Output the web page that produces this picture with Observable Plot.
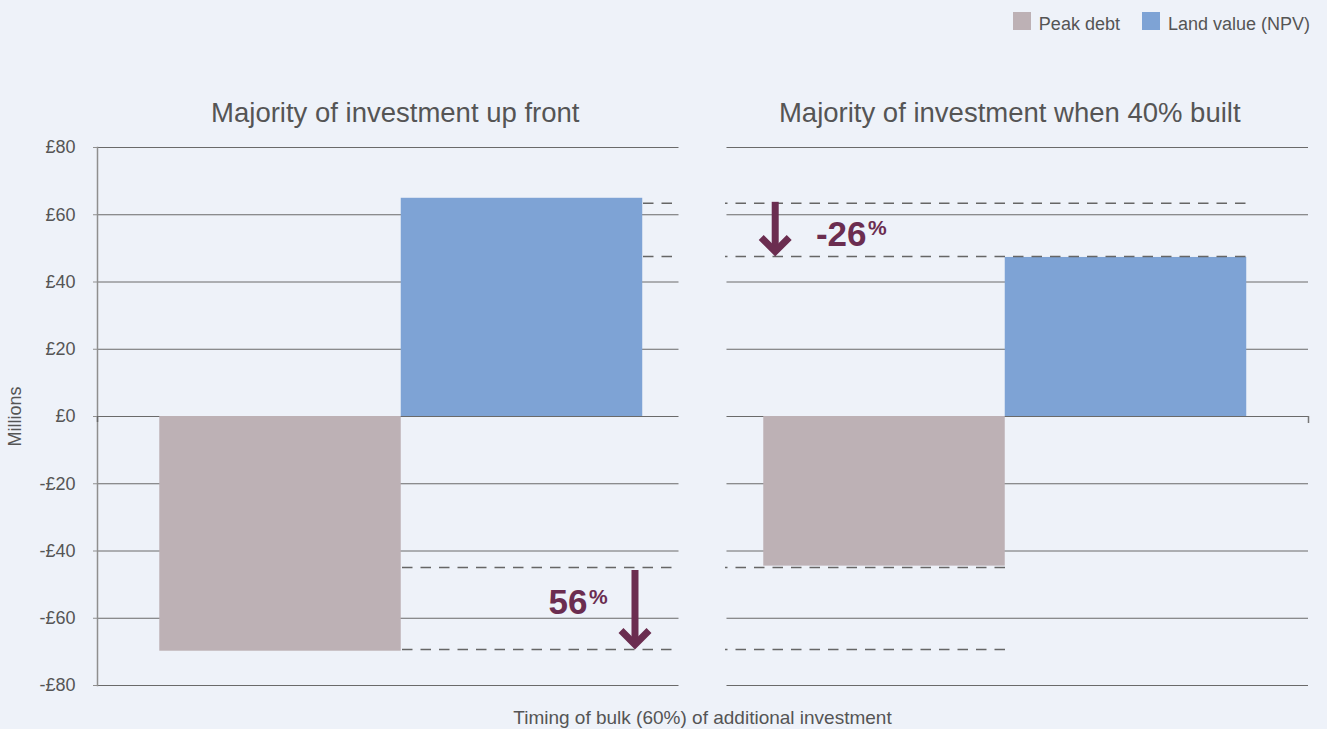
<!DOCTYPE html>
<html>
<head>
<meta charset="utf-8">
<script src="https://cdn.jsdelivr.net/npm/d3@7"></script>
<script src="https://cdn.jsdelivr.net/npm/@observablehq/plot@0.6"></script>
<style>
  html, body { margin: 0; padding: 0; background: #eef2f9; }
  #wrap { position: relative; width: 1327px; height: 729px; overflow: hidden;
          font-family: "Liberation Sans", Arial, sans-serif; color: #555; }
  #chart { position: absolute; left: 0; top: 0; }
  .legend { position: absolute; top: 12px; right: 17px; display: flex; align-items: flex-start; font-size: 18px; }
  .legend .item { display: flex; align-items: flex-start; margin-left: 22px; }
  .legend .sw { width: 18px; height: 18px; margin-right: 8px; }
  .legend .lab { line-height: 18px; padding-top: 3px; white-space: nowrap; }
  .xlabel { position: absolute; left: 402.5px; width: 600px; top: 708px; text-align: center;
            font-size: 19px; line-height: 19px; white-space: nowrap; }
</style>
</head>
<body>
<div id="wrap">
  <div id="chart"></div>
  <div class="legend" id="legend"></div>
  <div class="xlabel" id="xlabel"></div>
</div>
<script>
// ---- data ----
const panels = ["Majority of investment up front", "Majority of investment when 40% built"];
const series = ["Peak debt", "Land value (NPV)"];
const seriesColors = ["#bdb1b5", "#7ea3d5"];
const peakDebt = [-69.8, -44.5];
const landValue = [64.9, 47.3];
const upperRefs = [63.4, 47.6];    // dashed reference levels (land value)
const lowerRefs = [-44.9, -69.3];  // dashed reference levels (peak debt)
const changeLabels = ["56", "-26"];
const yTicks = [-80, -60, -40, -20, 0, 20, 40, 60, 80];
const yLabel = "Millions";
const xLabel = "Timing of bulk (60%) of additional investment";

const accent = "#6b2d50";
const rows = panels.flatMap((p, i) => [
  {panel: p, series: series[0], value: peakDebt[i]},
  {panel: p, series: series[1], value: landValue[i]}
]);
const left = rows.filter(d => d.panel === panels[0]);
const right = rows.filter(d => d.panel === panels[1]);

const P0 = () => panels[0];
const P1 = () => panels[1];

const chevron = {
  draw(ctx) { const s = 14; ctx.moveTo(-s, -s); ctx.lineTo(0, 0); ctx.lineTo(s, -s); }
};

const dashStyle = {stroke: "#666", strokeWidth: 1.5, strokeDasharray: "10.5 8"};
const titleStyle = {fx: d => d, text: d => d, frameAnchor: "top", lineAnchor: "bottom", dy: -26, fontSize: 27.5, fill: "#555"};

const plot = Plot.plot({
  width: 1327,
  height: 729,
  marginTop: 147,
  marginBottom: 44,
  marginLeft: 97,
  marginRight: 19,
  style: {background: "transparent", fontFamily: "Liberation Sans, Arial, sans-serif", fontSize: "18px", color: "#555"},
  fx: {domain: panels, paddingInner: 0.07625, paddingOuter: 0, round: false, axis: null},
  x: {domain: series, paddingInner: 0, paddingOuter: 0.204, round: false, axis: null},
  y: {domain: [-80, 80]},
  color: {domain: series, range: seriesColors},
  marks: [
    Plot.text([panels[0]], {...titleStyle, dx: 7}),
    Plot.text([panels[1]], {...titleStyle, dx: -8}),
    Plot.gridY(yTicks, {stroke: "#6a6a6a", strokeOpacity: 1, strokeWidth: 1}),
    Plot.frame({anchor: "left", fx: P0, stroke: "#8f8f8f", strokeWidth: 1.5}),
    // small ticks on the zero baseline at the panel edges
    Plot.ruleX([0], {fx: P0, x: () => series[0], dx: -170, y1: 0, y2: 0, insetBottom: -6, stroke: "#666", strokeWidth: 1.5}),
    Plot.ruleX([0], {fx: P1, x: () => series[1], dx: 170, y1: 0, y2: 0, insetBottom: -7, stroke: "#777", strokeWidth: 1.5}),
    Plot.axisY(yTicks, {
      tickFormat: d => (d < 0 ? "-£" : "£") + Math.abs(d),
      tickSize: 4, tickPadding: 18, stroke: "#8f8f8f", fill: "#555",
      label: yLabel, labelAnchor: "center", labelArrow: "none", labelOffset: 89
    }),
    Plot.barY(left, {fx: "panel", x: "series", y: "value", fill: "series", dx: 13}),
    Plot.barY(right, {fx: "panel", x: "series", y: "value", fill: "series", dx: -12.5}),
    // dashed reference lines
    Plot.ruleY(upperRefs, {y: d => d, fx: P0, insetLeft: 546, insetRight: 3, ...dashStyle}),
    Plot.ruleY(lowerRefs, {y: d => d, fx: P0, insetLeft: 305, insetRight: 3, ...dashStyle}),
    Plot.ruleY(upperRefs, {y: d => d, fx: P1, insetLeft: -1.5, insetRight: 60, ...dashStyle, strokeDashoffset: 8}),
    Plot.ruleY(lowerRefs, {y: d => d, fx: P1, insetLeft: -1.5, insetRight: 303, ...dashStyle, strokeDashoffset: 8}),
    // arrows (shaft + chevron head)
    Plot.ruleX([0], {fx: P0, x: () => series[1], y1: lowerRefs[0], y2: lowerRefs[1], dx: 126, stroke: accent, strokeWidth: 7, insetTop: 3, insetBottom: 6}),
    Plot.dot([0], {fx: P0, x: () => series[1], y: lowerRefs[1], dx: 126, dy: -5, symbol: chevron, fill: "none", stroke: accent, strokeWidth: 7, strokeLinejoin: "miter"}),
    Plot.ruleX([0], {fx: P1, x: () => series[0], y1: upperRefs[0], y2: upperRefs[1], dx: -121.8, stroke: accent, strokeWidth: 7, insetTop: -1, insetBottom: 6}),
    Plot.dot([0], {fx: P1, x: () => series[0], y: upperRefs[1], dx: -121.8, dy: -5, symbol: chevron, fill: "none", stroke: accent, strokeWidth: 7, strokeLinejoin: "miter"}),
    // change labels
    Plot.text([changeLabels[0]], {fx: P0, x: () => series[1], y: (lowerRefs[0] + lowerRefs[1]) / 2, text: d => d, textAnchor: "end", dx: 78.5, dy: -5.7, fontSize: 35, fontWeight: "bold", fill: accent}),
    Plot.text(["%"], {fx: P0, x: () => series[1], y: (lowerRefs[0] + lowerRefs[1]) / 2, text: d => d, textAnchor: "start", dx: 80, dy: -11.7, fontSize: 21, fontWeight: "bold", fill: accent}),
    Plot.text([changeLabels[1]], {fx: P1, x: () => series[0], y: (upperRefs[0] + upperRefs[1]) / 2, text: d => d, textAnchor: "end", dx: -30.5, dy: 5.4, fontSize: 35, fontWeight: "bold", fill: accent}),
    Plot.text(["%"], {fx: P1, x: () => series[0], y: (upperRefs[0] + upperRefs[1]) / 2, text: d => d, textAnchor: "start", dx: -29, dy: -2.1, fontSize: 21, fontWeight: "bold", fill: accent})
  ]
});
document.getElementById("chart").appendChild(plot);

// legend
const legend = document.getElementById("legend");
series.forEach((s, i) => {
  const item = document.createElement("div");
  item.className = "item";
  const sw = document.createElement("div");
  sw.className = "sw";
  sw.style.background = seriesColors[i];
  const lab = document.createElement("span");
  lab.className = "lab";
  lab.textContent = s;
  item.appendChild(sw);
  item.appendChild(lab);
  legend.appendChild(item);
});
document.getElementById("xlabel").textContent = xLabel;
</script>
</body>
</html>
